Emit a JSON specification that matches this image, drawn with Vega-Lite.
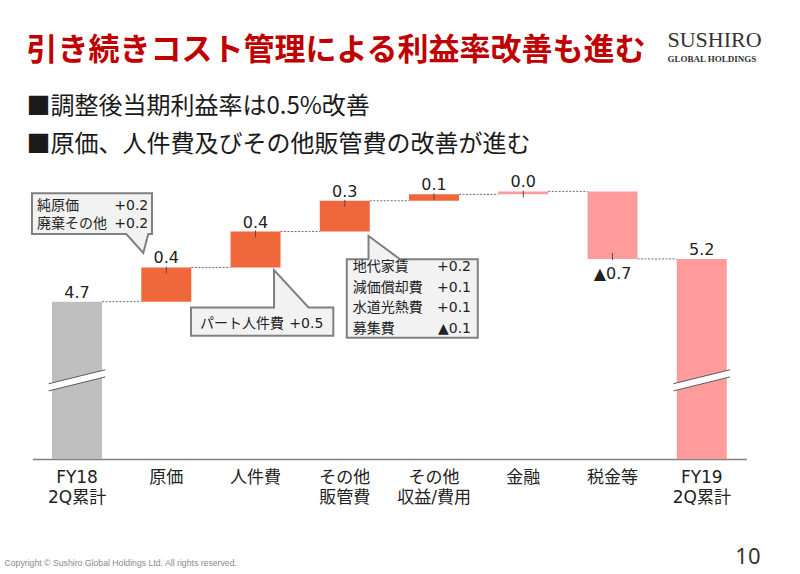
{
  "$schema": "https://vega.github.io/schema/vega-lite/v6.json",
  "width": 714,
  "height": 289,
  "autosize": {"type": "none"},
  "padding": {"left": 32.4, "top": 170, "right": 53.6, "bottom": 115},
  "background": "white",
  "title": {
    "text": "引き続きコスト管理による利益率改善も進む",
    "subtitle": ["■調整後当期利益率は0.5%改善", "■原価、人件費及びその他販管費の改善が進む"],
    "anchor": "start",
    "frame": "group",
    "font": "Noto Sans CJK JP",
    "fontSize": 31,
    "fontWeight": "bold",
    "color": "#C00000",
    "subtitleFont": "Noto Sans CJK JP",
    "subtitleFontSize": 24,
    "subtitleColor": "#1a1a1a",
    "subtitleLineHeight": 38,
    "subtitlePadding": 28,
    "offset": -129,
    "dx": -6
  },
  "data": {
    "values": [
      {"cat": "FY18|2Q累計", "next": "原価", "start": 0, "end": 4.7, "label": "4.7", "kind": "total18"},
      {"cat": "原価", "next": "人件費", "start": 4.7, "end": 5.10, "label": "0.4", "kind": "cost", "note_names": "純原価\n廃棄その他", "note_vals": "+0.2\n+0.2"},
      {"cat": "人件費", "next": "その他|販管費", "start": 5.10, "end": 5.52, "label": "0.4", "kind": "cost", "note_names": "パート人件費", "note_vals": "+0.5"},
      {"cat": "その他|販管費", "next": "その他|収益/費用", "start": 5.52, "end": 5.88, "label": "0.3", "kind": "cost", "note_names": "地代家賃\n減価償却費\n水道光熱費\n募集費", "note_vals": "+0.2\n+0.1\n+0.1\n▲0.1"},
      {"cat": "その他|収益/費用", "next": "金融", "start": 5.88, "end": 5.955, "label": "0.1", "kind": "cost"},
      {"cat": "金融", "next": "税金等", "start": 5.955, "end": 5.99, "label": "0.0", "kind": "other"},
      {"cat": "税金等", "next": "FY19|2Q累計", "start": 5.99, "end": 5.2, "label": "▲0.7", "kind": "other"},
      {"cat": "FY19|2Q累計", "next": null, "start": 0, "end": 5.2, "label": "5.2", "kind": "total19"}
    ]
  },
  "resolve": {"axis": {"x": "independent", "y": "independent"}},
  "layer": [
    {
      "transform": [{"filter": "datum.next != null"}],
      "mark": {"type": "rule", "strokeDash": [2, 1.5], "color": "#6d6d6d", "strokeWidth": 1},
      "encoding": {
        "x": {"field": "cat", "type": "nominal", "bandPosition": 1,
          "scale": {"domain": ["FY18|2Q累計", "原価", "人件費", "その他|販管費", "その他|収益/費用", "金融", "税金等", "FY19|2Q累計"], "paddingInner": 0.44, "paddingOuter": 0.22},
          "axis": {"orient": "top", "domain": false, "ticks": false, "labels": false, "grid": false,
            "title": "SUSHIRO", "titleX": 634.6, "titleY": -123.5, "titleAlign": "left", "titleBaseline": "alphabetic", "titleAnchor": null,
            "titleFont": "Liberation Serif", "titleFontSize": 22, "titleFontWeight": "normal", "titleColor": "#333333"}},
        "x2": {"field": "next", "bandPosition": 0},
        "y": {"field": "end", "type": "quantitative",
          "scale": {"domain": [2.86, 6.24], "zero": false, "nice": false},
          "axis": {"orient": "right", "domain": false, "ticks": false, "labels": false, "grid": false,
            "title": "10", "titleX": 13.6, "titleY": 393, "titleAngle": 0, "titleAlign": "right", "titleBaseline": "alphabetic", "titleAnchor": null,
            "titleFont": "Noto Sans", "titleFontSize": 22, "titleFontWeight": "normal", "titleColor": "#333333"}}
      }
    },
    {
      "mark": {"type": "bar", "clip": true},
      "encoding": {
        "x": {"field": "cat", "type": "nominal",
          "scale": {"domain": ["FY18|2Q累計", "原価", "人件費", "その他|販管費", "その他|収益/費用", "金融", "税金等", "FY19|2Q累計"], "paddingInner": 0.44, "paddingOuter": 0.22},
          "axis": {"orient": "bottom", "domainColor": "#808080", "domainWidth": 1.5, "ticks": false, "grid": false,
            "labelAngle": 0, "labelExpr": "split(datum.label, '|')", "labelFont": "DejaVu Sans, Noto Sans CJK JP", "labelFontSize": 17, "labelColor": "#222222", "labelPadding": 10, "labelLineHeight": 20,
            "title": "Copyright © Sushiro Global Holdings Ltd. All rights reserved.", "titleX": -28.4, "titleY": 106, "titleAlign": "left", "titleBaseline": "alphabetic", "titleAnchor": null,
            "titleFont": "Liberation Sans", "titleFontSize": 8.7, "titleFontWeight": "normal", "titleColor": "#8a8a8a"}},
        "y": {"field": "start", "type": "quantitative",
          "scale": {"domain": [2.86, 6.24], "zero": false, "nice": false},
          "axis": {"orient": "left", "domain": false, "ticks": false, "labels": false, "grid": false,
            "title": "GLOBAL HOLDINGS", "titleX": 634.6, "titleY": -108.5, "titleAngle": 0, "titleAlign": "left", "titleBaseline": "alphabetic", "titleAnchor": null,
            "titleFont": "Liberation Serif", "titleFontSize": 9, "titleFontWeight": "bold", "titleColor": "#333333"}},
        "y2": {"field": "end"},
        "color": {"field": "kind", "type": "nominal", "legend": null,
          "scale": {"domain": ["total18", "cost", "other", "total19"], "range": ["#BFBFBF", "#F0673C", "#FF9B9B", "#FF9B9B"]}}
      }
    },
    {
      "transform": [{"filter": "datum.start == 0"}],
      "mark": {"type": "point", "shape": "M -28.4,3.4 L 28.3,-10.6 L 28.3,-3.4 L -28.4,10.6 Z", "size": 4, "filled": true, "fill": "white", "strokeWidth": 0, "opacity": 1},
      "encoding": {
        "x": {"field": "cat", "type": "nominal", "scale": {"domain": ["FY18|2Q累計", "原価", "人件費", "その他|販管費", "その他|収益/費用", "金融", "税金等", "FY19|2Q累計"], "paddingInner": 0.44, "paddingOuter": 0.22}, "axis": null},
        "y": {"datum": 3.78, "type": "quantitative", "scale": {"domain": [2.86, 6.24], "zero": false, "nice": false}, "axis": null}
      }
    },
    {
      "transform": [{"filter": "datum.start == 0"}],
      "mark": {"type": "point", "shape": "M -28.4,3.4 L 28.3,-10.6 M -28.4,10.6 L 28.3,-3.4", "size": 4, "filled": false, "stroke": "#5a5a5a", "strokeWidth": 1, "opacity": 1},
      "encoding": {
        "x": {"field": "cat", "type": "nominal", "scale": {"domain": ["FY18|2Q累計", "原価", "人件費", "その他|販管費", "その他|収益/費用", "金融", "税金等", "FY19|2Q累計"], "paddingInner": 0.44, "paddingOuter": 0.22}, "axis": null},
        "y": {"datum": 3.78, "type": "quantitative", "scale": {"domain": [2.86, 6.24], "zero": false, "nice": false}, "axis": null}
      }
    },
    {
      "transform": [{"filter": "datum.start > 0 && datum.end >= datum.start"}],
      "mark": {"type": "tick", "orient": "vertical", "size": 7, "thickness": 1, "color": "#505050", "opacity": 1, "yOffset": 2.5},
      "encoding": {
        "x": {"field": "cat", "type": "nominal", "scale": {"domain": ["FY18|2Q累計", "原価", "人件費", "その他|販管費", "その他|収益/費用", "金融", "税金等", "FY19|2Q累計"], "paddingInner": 0.44, "paddingOuter": 0.22}, "axis": null},
        "y": {"field": "end", "type": "quantitative", "scale": {"domain": [2.86, 6.24], "zero": false, "nice": false}, "axis": null}
      }
    },
    {
      "transform": [{"filter": "datum.start > 0 && datum.end < datum.start"}],
      "mark": {"type": "tick", "orient": "vertical", "size": 7, "thickness": 1, "color": "#505050", "opacity": 1, "yOffset": -2.5},
      "encoding": {
        "x": {"field": "cat", "type": "nominal", "scale": {"domain": ["FY18|2Q累計", "原価", "人件費", "その他|販管費", "その他|収益/費用", "金融", "税金等", "FY19|2Q累計"], "paddingInner": 0.44, "paddingOuter": 0.22}, "axis": null},
        "y": {"field": "end", "type": "quantitative", "scale": {"domain": [2.86, 6.24], "zero": false, "nice": false}, "axis": null}
      }
    },
    {
      "transform": [{"filter": "datum.end >= datum.start"}],
      "mark": {"type": "text", "font": "DejaVu Sans", "fontSize": 16, "color": "#222222", "baseline": "middle", "dy": -9},
      "encoding": {
        "x": {"field": "cat", "type": "nominal", "scale": {"domain": ["FY18|2Q累計", "原価", "人件費", "その他|販管費", "その他|収益/費用", "金融", "税金等", "FY19|2Q累計"], "paddingInner": 0.44, "paddingOuter": 0.22}, "axis": null},
        "y": {"field": "end", "type": "quantitative", "scale": {"domain": [2.86, 6.24], "zero": false, "nice": false}, "axis": null},
        "text": {"field": "label"}
      }
    },
    {
      "transform": [{"filter": "datum.end < datum.start"}],
      "mark": {"type": "text", "font": "DejaVu Sans", "fontSize": 16, "color": "#222222", "baseline": "middle", "dy": 15},
      "encoding": {
        "x": {"field": "cat", "type": "nominal", "scale": {"domain": ["FY18|2Q累計", "原価", "人件費", "その他|販管費", "その他|収益/費用", "金融", "税金等", "FY19|2Q累計"], "paddingInner": 0.44, "paddingOuter": 0.22}, "axis": null},
        "y": {"field": "end", "type": "quantitative", "scale": {"domain": [2.86, 6.24], "zero": false, "nice": false}, "axis": null},
        "text": {"field": "label"}
      }
    },
    {
      "transform": [{"filter": "datum.cat == '原価'"}],
      "mark": {"type": "point", "shape": "M -134.3,-74.2 H -14.3 V -33.5 H -18 L -23,-14.5 L -40,-33.5 H -134.3 Z", "size": 4, "filled": true, "fill": "#F2F2F2", "stroke": "#808080", "strokeWidth": 2, "opacity": 1},
      "encoding": {
        "x": {"field": "cat", "type": "nominal", "scale": {"domain": ["FY18|2Q累計", "原価", "人件費", "その他|販管費", "その他|収益/費用", "金融", "税金等", "FY19|2Q累計"], "paddingInner": 0.44, "paddingOuter": 0.22}, "axis": null},
        "y": {"field": "end", "type": "quantitative", "scale": {"domain": [2.86, 6.24], "zero": false, "nice": false}, "axis": null}
      }
    },
    {
      "transform": [{"filter": "datum.cat == '原価'"}],
      "mark": {"type": "text", "font": "DejaVu Sans, Noto Sans CJK JP", "fontSize": 14, "color": "#222222", "align": "left", "baseline": "middle", "lineBreak": "\n", "lineHeight": 18, "dx": -129.25, "dy": -61},
      "encoding": {
        "x": {"field": "cat", "type": "nominal", "scale": {"domain": ["FY18|2Q累計", "原価", "人件費", "その他|販管費", "その他|収益/費用", "金融", "税金等", "FY19|2Q累計"], "paddingInner": 0.44, "paddingOuter": 0.22}, "axis": null},
        "y": {"field": "end", "type": "quantitative", "scale": {"domain": [2.86, 6.24], "zero": false, "nice": false}, "axis": null},
        "text": {"field": "note_names"}
      }
    },
    {
      "transform": [{"filter": "datum.cat == '原価'"}],
      "mark": {"type": "text", "font": "DejaVu Sans, Noto Sans CJK JP", "fontSize": 14, "color": "#222222", "align": "right", "baseline": "middle", "lineBreak": "\n", "lineHeight": 18, "dx": -18, "dy": -61},
      "encoding": {
        "x": {"field": "cat", "type": "nominal", "scale": {"domain": ["FY18|2Q累計", "原価", "人件費", "その他|販管費", "その他|収益/費用", "金融", "税金等", "FY19|2Q累計"], "paddingInner": 0.44, "paddingOuter": 0.22}, "axis": null},
        "y": {"field": "end", "type": "quantitative", "scale": {"domain": [2.86, 6.24], "zero": false, "nice": false}, "axis": null},
        "text": {"field": "note_vals"}
      }
    },
    {
      "transform": [{"filter": "datum.cat == '人件費'"}],
      "mark": {"type": "point", "shape": "M -64.5,40 H 18.5 V 2.5 L 53,40 H 77.8 V 68.2 H -64.5 Z", "size": 4, "filled": true, "fill": "#F2F2F2", "stroke": "#808080", "strokeWidth": 2, "opacity": 1},
      "encoding": {
        "x": {"field": "cat", "type": "nominal", "scale": {"domain": ["FY18|2Q累計", "原価", "人件費", "その他|販管費", "その他|収益/費用", "金融", "税金等", "FY19|2Q累計"], "paddingInner": 0.44, "paddingOuter": 0.22}, "axis": null},
        "y": {"field": "start", "type": "quantitative", "scale": {"domain": [2.86, 6.24], "zero": false, "nice": false}, "axis": null}
      }
    },
    {
      "transform": [{"filter": "datum.cat == '人件費'"}],
      "mark": {"type": "text", "font": "DejaVu Sans, Noto Sans CJK JP", "fontSize": 14, "color": "#222222", "align": "left", "baseline": "middle", "dx": -55.5, "dy": 56.8},
      "encoding": {
        "x": {"field": "cat", "type": "nominal", "scale": {"domain": ["FY18|2Q累計", "原価", "人件費", "その他|販管費", "その他|収益/費用", "金融", "税金等", "FY19|2Q累計"], "paddingInner": 0.44, "paddingOuter": 0.22}, "axis": null},
        "y": {"field": "start", "type": "quantitative", "scale": {"domain": [2.86, 6.24], "zero": false, "nice": false}, "axis": null},
        "text": {"field": "note_names"}
      }
    },
    {
      "transform": [{"filter": "datum.cat == '人件費'"}],
      "mark": {"type": "text", "font": "DejaVu Sans, Noto Sans CJK JP", "fontSize": 14, "color": "#222222", "align": "right", "baseline": "middle", "dx": 67.8, "dy": 56.8},
      "encoding": {
        "x": {"field": "cat", "type": "nominal", "scale": {"domain": ["FY18|2Q累計", "原価", "人件費", "その他|販管費", "その他|収益/費用", "金融", "税金等", "FY19|2Q累計"], "paddingInner": 0.44, "paddingOuter": 0.22}, "axis": null},
        "y": {"field": "start", "type": "quantitative", "scale": {"domain": [2.86, 6.24], "zero": false, "nice": false}, "axis": null},
        "text": {"field": "note_vals"}
      }
    },
    {
      "transform": [{"filter": "datum.cat == 'その他|販管費'"}],
      "mark": {"type": "point", "shape": "M 2,27.7 H 23.75 V 4.4 L 55.25,27.7 H 133 V 106.1 H 2 Z", "size": 4, "filled": true, "fill": "#F2F2F2", "stroke": "#808080", "strokeWidth": 2, "opacity": 1},
      "encoding": {
        "x": {"field": "cat", "type": "nominal", "scale": {"domain": ["FY18|2Q累計", "原価", "人件費", "その他|販管費", "その他|収益/費用", "金融", "税金等", "FY19|2Q累計"], "paddingInner": 0.44, "paddingOuter": 0.22}, "axis": null},
        "y": {"field": "start", "type": "quantitative", "scale": {"domain": [2.86, 6.24], "zero": false, "nice": false}, "axis": null}
      }
    },
    {
      "transform": [{"filter": "datum.cat == 'その他|販管費'"}],
      "mark": {"type": "text", "font": "DejaVu Sans, Noto Sans CJK JP", "fontSize": 14, "color": "#222222", "align": "left", "baseline": "middle", "lineBreak": "\n", "lineHeight": 20.5, "dx": 7.9, "dy": 35.6},
      "encoding": {
        "x": {"field": "cat", "type": "nominal", "scale": {"domain": ["FY18|2Q累計", "原価", "人件費", "その他|販管費", "その他|収益/費用", "金融", "税金等", "FY19|2Q累計"], "paddingInner": 0.44, "paddingOuter": 0.22}, "axis": null},
        "y": {"field": "start", "type": "quantitative", "scale": {"domain": [2.86, 6.24], "zero": false, "nice": false}, "axis": null},
        "text": {"field": "note_names"}
      }
    },
    {
      "transform": [{"filter": "datum.cat == 'その他|販管費'"}],
      "mark": {"type": "text", "font": "DejaVu Sans, Noto Sans CJK JP", "fontSize": 14, "color": "#222222", "align": "right", "baseline": "middle", "lineBreak": "\n", "lineHeight": 20.5, "dx": 126.25, "dy": 35.6},
      "encoding": {
        "x": {"field": "cat", "type": "nominal", "scale": {"domain": ["FY18|2Q累計", "原価", "人件費", "その他|販管費", "その他|収益/費用", "金融", "税金等", "FY19|2Q累計"], "paddingInner": 0.44, "paddingOuter": 0.22}, "axis": null},
        "y": {"field": "start", "type": "quantitative", "scale": {"domain": [2.86, 6.24], "zero": false, "nice": false}, "axis": null},
        "text": {"field": "note_vals"}
      }
    }
  ],
  "config": {"view": {"stroke": null}}
}
